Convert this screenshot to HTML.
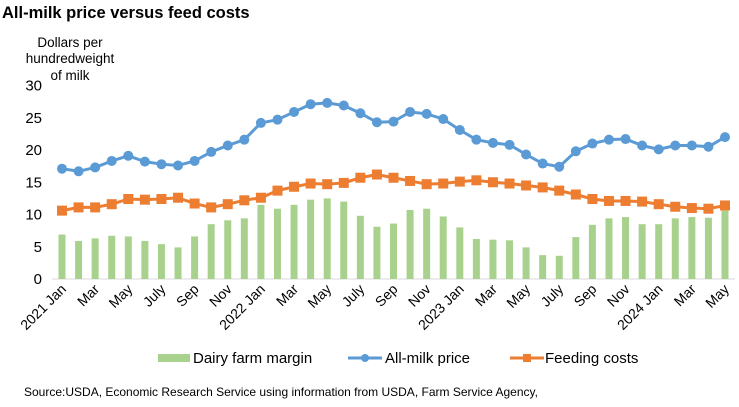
<!DOCTYPE html>
<html><head><meta charset="utf-8"><style>
body{margin:0;background:#fff;font-family:"Liberation Sans",Arial,sans-serif;}
#wrap{position:relative;width:739px;height:407px;overflow:hidden}
</style></head><body>
<div id="wrap">
<svg id="chart" width="739" height="407" xmlns="http://www.w3.org/2000/svg">
<text x="2" y="18" font-size="16.5" font-weight="bold" fill="#000">All-milk price versus feed costs</text>
<g font-size="13.5" fill="#000" text-anchor="middle">
<text x="70" y="47">Dollars per</text>
<text x="70" y="63">hundredweight</text>
<text x="70" y="80">of milk</text>
</g>
<g id="yticks"></g><g id="bars"></g><g id="lines"></g><g id="xticks"></g>
<g font-size="15" fill="#000">
<g><rect x="158" y="354" width="32" height="8" fill="#a9d18e"/><text x="193" y="363">Dairy farm margin</text></g>
<g><line x1="348" y1="358" x2="382" y2="358" stroke="#5b9bd5" stroke-width="3"/><circle cx="365" cy="358" r="4" fill="#5b9bd5"/><text x="385" y="363">All-milk price</text></g>
<g><line x1="510" y1="358" x2="544" y2="358" stroke="#ed7d31" stroke-width="3"/><rect x="523" y="354" width="8" height="8" fill="#ed7d31"/><text x="545" y="363">Feeding costs</text></g>
</g>
<text x="24" y="396" font-size="12" fill="#000">Source:USDA, Economic Research Service using information from USDA, Farm Service Agency,</text>
</svg></div>
<script>
const months=["2021 Jan","Feb","Mar","Apr","May","Jun","July","Aug","Sep","Oct","Nov","Dec","2022 Jan","Feb","Mar","Apr","May","Jun","July","Aug","Sep","Oct","Nov","Dec","2023 Jan","Feb","Mar","Apr","May","Jun","July","Aug","Sep","Oct","Nov","Dec","2024 Jan","Feb","Mar","Apr","May"];
const milkPrice=[17.1,16.7,17.3,18.3,19.1,18.2,17.8,17.6,18.3,19.7,20.7,21.6,24.2,24.7,25.9,27.1,27.3,26.9,25.7,24.3,24.4,25.9,25.6,24.8,23.1,21.6,21.1,20.8,19.3,17.9,17.4,19.8,21.0,21.6,21.7,20.7,20.1,20.7,20.7,20.5,22.0];
const feedCosts=[10.6,11.1,11.1,11.6,12.4,12.3,12.4,12.6,11.7,11.1,11.6,12.2,12.6,13.7,14.3,14.8,14.7,14.9,15.7,16.2,15.7,15.2,14.7,14.8,15.1,15.3,15.0,14.8,14.5,14.2,13.7,13.1,12.4,12.1,12.1,12.0,11.6,11.2,11.0,10.9,11.4];
const margin=[6.9,5.9,6.3,6.7,6.6,5.9,5.4,4.9,6.6,8.5,9.1,9.4,11.5,10.9,11.5,12.3,12.5,12.0,9.8,8.1,8.6,10.7,10.9,9.7,8.0,6.2,6.1,6.0,4.9,3.7,3.6,6.5,8.4,9.4,9.6,8.5,8.5,9.4,9.6,9.5,10.6];
const yTicks=[0,5,10,15,20,25,30];
const NS="http://www.w3.org/2000/svg";
const x0=62,x1=725,y0=279,yTop=85.5;
const xs=i=>x0+(x1-x0)*i/(months.length-1);
const ys=v=>y0-(y0-yTop)*v/30;
function mk(t,a,p){const e=document.createElementNS(NS,t);for(const k in a)e.setAttribute(k,a[k]);p.appendChild(e);return e;}
const yt=document.getElementById('yticks');
yTicks.forEach(v=>{const t=mk('text',{x:42,y:ys(v)+5,'font-size':15,'text-anchor':'end',fill:'#000'},yt);t.textContent=v;

});
const ax=mk('line',{x1:52,x2:735,y1:y0,y2:y0,stroke:'#d9d9d9','stroke-width':1},yt);


const bg=document.getElementById('bars');
margin.forEach((v,i)=>{const r=mk('rect',{x:xs(i)-3.5,y:ys(v),width:7,height:y0-ys(v),fill:'#a9d18e'},bg);

});
const lg=document.getElementById('lines');
function series(arr,col,sq,name){
const pl=mk('polyline',{points:arr.map((v,i)=>xs(i)+','+ys(v)).join(' '),fill:'none',stroke:col,'stroke-width':3,'stroke-linejoin':'round'},lg);


arr.forEach((v,i)=>{let m;if(sq)m=mk('rect',{x:xs(i)-5,y:ys(v)-5,width:10,height:10,fill:col},lg);else m=mk('circle',{cx:xs(i),cy:ys(v),r:5,fill:col},lg);

});}
series(milkPrice,'#5b9bd5',false,'milk-price');
series(feedCosts,'#ed7d31',true,'feed-cost');
const xt=document.getElementById('xticks');
months.forEach((m,i)=>{if(i%2)return;const x=xs(i)+5,y=290;
const t=mk('text',{x:x,y:y,'font-size':14,'text-anchor':'end',fill:'#000',transform:`rotate(-45 ${x} ${y})`},xt);t.textContent=m;

});
</script>
</body></html>
